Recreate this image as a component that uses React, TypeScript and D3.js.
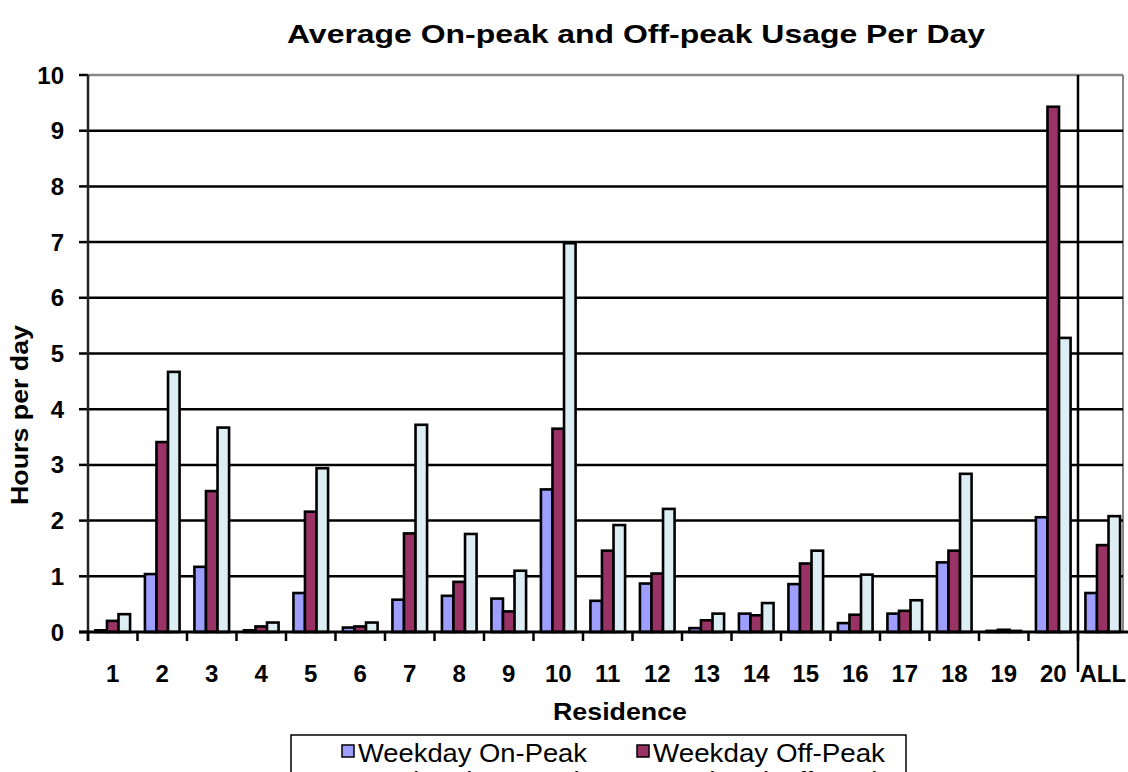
import React from "react";
import * as d3 from "d3";

const categories = ["1","2","3","4","5","6","7","8","9","10","11","12","13","14","15","16","17","18","19","20","ALL"];
const seriesNames = ["Weekday On-Peak", "Weekday Off-Peak", "Weekend"];
const weekdayOnPeak = [0.03,1.04,1.17,0.03,0.7,0.08,0.58,0.65,0.6,2.56,0.56,0.87,0.07,0.33,0.86,0.16,0.33,1.25,0.02,2.06,0.7];
const weekdayOffPeak = [0.2,3.41,2.53,0.1,2.16,0.1,1.77,0.9,0.37,3.65,1.46,1.05,0.21,0.3,1.23,0.31,0.38,1.46,0.04,9.43,1.56];
const weekendUsage = [0.32,4.67,3.67,0.17,2.94,0.17,3.72,1.76,1.1,6.98,1.92,2.21,0.33,0.52,1.46,1.03,0.57,2.84,0.02,5.28,2.08];
const yTicks = [0,1,2,3,4,5,6,7,8,9,10];
const legendLabels = ["Weekday On-Peak", "Weekday Off-Peak", "Weekend On-Peak", "Weekend Off-Peak"];
const colors = ["#9E9EFF", "#993366", "#DCEEF3", "#FFFFCC"];

export default function App() {
  const W = 1128, H = 772;
  const left = 88, right = 1127.5, top = 75, bottom = 632;
  const x = d3.scaleBand<string>().domain(categories).range([left, right]).paddingInner(0).paddingOuter(0);
  const y = d3.scaleLinear().domain([0, 10]).range([bottom, top]);
  const bw = x.bandwidth();
  const inner = d3.scaleBand<number>().domain([0,1,2]).range([bw*0.15, bw*0.85]).padding(0);
  const seriesData = [weekdayOnPeak, weekdayOffPeak, weekendUsage];
  const font = "'Liberation Sans', Arial, sans-serif";
  const plotRight = 1123;
  const allX = x("ALL")!;

  return (
    <svg width={W} height={H} style={{ position: "absolute", left: 0, top: 0, background: "#fff" }}>
      <text x={636} y={43} textAnchor="middle" fontFamily={font} fontWeight="bold" fontSize={26} textLength={698} lengthAdjust="spacingAndGlyphs">Average On-peak and Off-peak Usage Per Day</text>
      {/* top & right border */}
      <line x1={left} x2={plotRight} y1={top} y2={top} stroke="#888" strokeWidth={2.5} />
      <line x1={plotRight} x2={plotRight} y1={top} y2={bottom} stroke="#888" strokeWidth={2} />
      {/* gridlines */}
      {yTicks.filter(t => t > 0 && t < 10).map(t => (
        <line key={"g"+t} x1={left} x2={plotRight} y1={y(t)} y2={y(t)} stroke="#000" strokeWidth={2.5} />
      ))}
      {/* y ticks & labels */}
      {yTicks.map(t => (
        <g key={"yt"+t}>
          <line x1={left-9} x2={left} y1={y(t)} y2={y(t)} stroke="#000" strokeWidth={2.5} />
          <text x={64} y={y(t)+8.5} textAnchor="end" fontFamily={font} fontWeight="bold" fontSize={24}>{t}</text>
        </g>
      ))}
      {/* ALL separator */}
      <line x1={allX} x2={allX} y1={top} y2={672} stroke="#000" strokeWidth={2.5} />
      {/* bars */}
      {seriesData.map((vals, si) => vals.map((v, i) => (
        <rect key={si+"-"+i} x={x(categories[i])! + inner(si)!} y={y(v)} width={inner.bandwidth()} height={bottom - y(v)}
          fill={colors[si]} stroke="#000" strokeWidth={2.6} />
      )))}
      {/* axes */}
      <line x1={left} x2={left} y1={top} y2={bottom+9} stroke="#222" strokeWidth={2.5} />
      <line x1={left-9} x2={W} y1={bottom} y2={bottom} stroke="#000" strokeWidth={3} />
      {categories.map((c, i) => (
        <line key={"xt"+i} x1={x(c)!} x2={x(c)!} y1={bottom} y2={bottom+9} stroke="#000" strokeWidth={2.5} />
      ))}
      {categories.map((c, i) => (
        <text key={"xl"+i} x={x(c)! + bw/2} y={682} textAnchor="middle" fontFamily={font} fontWeight="bold" fontSize={24}>{c}</text>
      ))}
      <text x={620} y={720} textAnchor="middle" fontFamily={font} fontWeight="bold" fontSize={24} textLength={134} lengthAdjust="spacingAndGlyphs">Residence</text>
      <text transform="translate(28,415) rotate(-90)" textAnchor="middle" fontFamily={font} fontWeight="bold" fontSize={23} textLength={180} lengthAdjust="spacingAndGlyphs">Hours per day</text>
      {/* legend */}
      <rect x={291} y={735} width={615} height={60} fill="#fff" stroke="#000" strokeWidth={1.5} />
      {legendLabels.map((lab, i) => {
        const col = i % 2, row = Math.floor(i / 2);
        const lx = col === 0 ? 342 : 637;
        const by = 762 + row * 28;
        return (
          <g key={"lg"+i}>
            <rect x={lx} y={by - 17} width={12} height={12} fill={colors[i]} stroke="#000" strokeWidth={1.5} />
            <text x={lx+16} y={by} fontFamily={font} fontSize={26} textLength={col === 0 ? 229 : 232} lengthAdjust="spacingAndGlyphs">{lab}</text>
          </g>
        );
      })}
    </svg>
  );
}
